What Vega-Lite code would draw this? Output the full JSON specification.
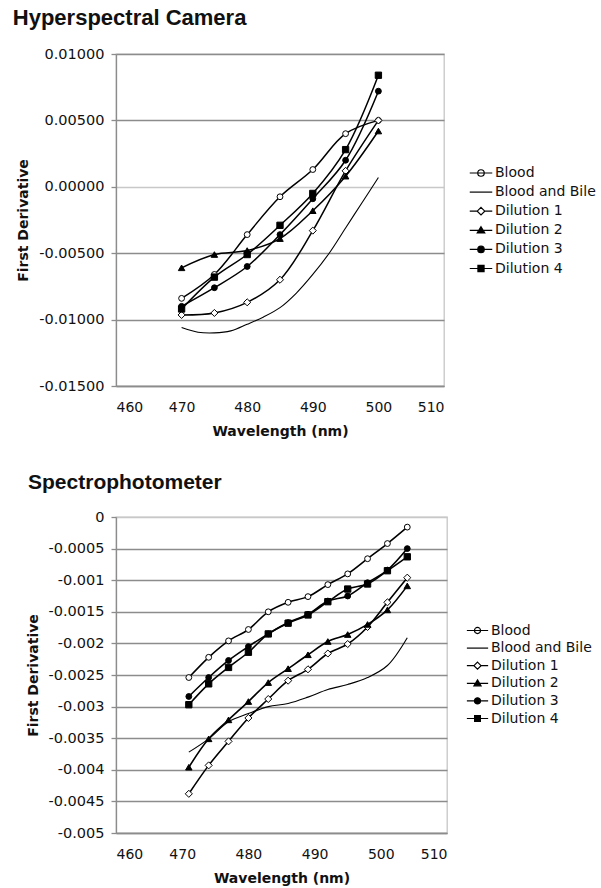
{
  "$schema": "https://vega.github.io/schema/vega-lite/v6.json",
  "padding": {"left": 12, "top": 6, "right": 5, "bottom": 5},
  "background": "white",
  "spacing": 32,
  "config": {
    "font": "DejaVu Sans",
    "view": {"stroke": "#c6c6c6", "strokeWidth": 1.3},
    "axis": {
      "labelFont": "DejaVu Sans", "labelFontSize": 14, "labelColor": "#111",
      "titleFont": "DejaVu Sans", "titleFontSize": 14, "titleFontWeight": "bold", "titleColor": "#111",
      "domainColor": "#8c8c8c", "domainWidth": 1.3, "tickColor": "#8c8c8c", "tickWidth": 1.3
    },
    "axisX": {"grid": false, "ticks": false, "tickSize": 0, "labelPadding": 14, "titlePadding": 10},
    "axisY": {"tickSize": 5, "labelPadding": 7, "titlePadding": 8, "labelFontSize": 14.5,
      "gridColor": {"condition": {"test": "datum.value === 0", "value": "#c8c8c8"}, "value": "#8c8c8c"},
      "gridWidth": 1.3},
    "title": {"font": "Liberation Sans", "fontWeight": "bold", "anchor": "start", "color": "#111", "frame": "bounds"}
  },
  "resolve": {
    "scale": {"x": "independent", "y": "independent", "shape": "independent", "fill": "independent"},
    "legend": {"shape": "independent", "fill": "independent"}
  },
  "datasets": {
    "hyper": [
      {"series": "Blood", "wavelength": 470, "value": -0.0084},
      {"series": "Blood", "wavelength": 475, "value": -0.0066},
      {"series": "Blood", "wavelength": 480, "value": -0.0036},
      {"series": "Blood", "wavelength": 485, "value": -0.00075},
      {"series": "Blood", "wavelength": 490, "value": 0.0013},
      {"series": "Blood", "wavelength": 495, "value": 0.0040},
      {"series": "Blood", "wavelength": 500, "value": 0.0050},
      {"series": "Blood and Bile", "wavelength": 470, "value": -0.0106},
      {"series": "Blood and Bile", "wavelength": 472.5, "value": -0.01095},
      {"series": "Blood and Bile", "wavelength": 475, "value": -0.0110},
      {"series": "Blood and Bile", "wavelength": 477.5, "value": -0.01085},
      {"series": "Blood and Bile", "wavelength": 480, "value": -0.01035},
      {"series": "Blood and Bile", "wavelength": 482.5, "value": -0.0098},
      {"series": "Blood and Bile", "wavelength": 485, "value": -0.0091},
      {"series": "Blood and Bile", "wavelength": 487.5, "value": -0.0080},
      {"series": "Blood and Bile", "wavelength": 490, "value": -0.0066},
      {"series": "Blood and Bile", "wavelength": 492.5, "value": -0.0050},
      {"series": "Blood and Bile", "wavelength": 495, "value": -0.0031},
      {"series": "Blood and Bile", "wavelength": 497.5, "value": -0.0012},
      {"series": "Blood and Bile", "wavelength": 500, "value": 0.0007},
      {"series": "Dilution 1", "wavelength": 470, "value": -0.00965},
      {"series": "Dilution 1", "wavelength": 475, "value": -0.0095},
      {"series": "Dilution 1", "wavelength": 480, "value": -0.0087},
      {"series": "Dilution 1", "wavelength": 485, "value": -0.0070},
      {"series": "Dilution 1", "wavelength": 490, "value": -0.0033},
      {"series": "Dilution 1", "wavelength": 495, "value": 0.0012},
      {"series": "Dilution 1", "wavelength": 500, "value": 0.0050},
      {"series": "Dilution 2", "wavelength": 470, "value": -0.0061},
      {"series": "Dilution 2", "wavelength": 475, "value": -0.0051},
      {"series": "Dilution 2", "wavelength": 480, "value": -0.0048},
      {"series": "Dilution 2", "wavelength": 485, "value": -0.0039},
      {"series": "Dilution 2", "wavelength": 490, "value": -0.0018},
      {"series": "Dilution 2", "wavelength": 495, "value": 0.0008},
      {"series": "Dilution 2", "wavelength": 500, "value": 0.0042},
      {"series": "Dilution 3", "wavelength": 470, "value": -0.0090},
      {"series": "Dilution 3", "wavelength": 475, "value": -0.0076},
      {"series": "Dilution 3", "wavelength": 480, "value": -0.0060},
      {"series": "Dilution 3", "wavelength": 485, "value": -0.0036},
      {"series": "Dilution 3", "wavelength": 490, "value": -0.0009},
      {"series": "Dilution 3", "wavelength": 495, "value": 0.0020},
      {"series": "Dilution 3", "wavelength": 500, "value": 0.0072},
      {"series": "Dilution 4", "wavelength": 470, "value": -0.0092},
      {"series": "Dilution 4", "wavelength": 475, "value": -0.0068},
      {"series": "Dilution 4", "wavelength": 480, "value": -0.0051},
      {"series": "Dilution 4", "wavelength": 485, "value": -0.0029},
      {"series": "Dilution 4", "wavelength": 490, "value": -0.0005},
      {"series": "Dilution 4", "wavelength": 495, "value": 0.0028},
      {"series": "Dilution 4", "wavelength": 500, "value": 0.0084}
    ],
    "spectro": [
      {"series": "Blood", "wavelength": 471, "value": -0.00254},
      {"series": "Blood", "wavelength": 474, "value": -0.00222},
      {"series": "Blood", "wavelength": 477, "value": -0.00196},
      {"series": "Blood", "wavelength": 480, "value": -0.00178},
      {"series": "Blood", "wavelength": 483, "value": -0.0015},
      {"series": "Blood", "wavelength": 486, "value": -0.00135},
      {"series": "Blood", "wavelength": 489, "value": -0.00126},
      {"series": "Blood", "wavelength": 492, "value": -0.00107},
      {"series": "Blood", "wavelength": 495, "value": -0.0009},
      {"series": "Blood", "wavelength": 498, "value": -0.00066},
      {"series": "Blood", "wavelength": 501, "value": -0.00042},
      {"series": "Blood", "wavelength": 504, "value": -0.00016},
      {"series": "Blood and Bile", "wavelength": 471, "value": -0.00372},
      {"series": "Blood and Bile", "wavelength": 474, "value": -0.00351},
      {"series": "Blood and Bile", "wavelength": 477, "value": -0.00324},
      {"series": "Blood and Bile", "wavelength": 480, "value": -0.00311},
      {"series": "Blood and Bile", "wavelength": 483, "value": -0.00300},
      {"series": "Blood and Bile", "wavelength": 486, "value": -0.00295},
      {"series": "Blood and Bile", "wavelength": 489, "value": -0.00285},
      {"series": "Blood and Bile", "wavelength": 492, "value": -0.00273},
      {"series": "Blood and Bile", "wavelength": 495, "value": -0.00265},
      {"series": "Blood and Bile", "wavelength": 498, "value": -0.00254},
      {"series": "Blood and Bile", "wavelength": 501, "value": -0.00235},
      {"series": "Blood and Bile", "wavelength": 504, "value": -0.00191},
      {"series": "Dilution 1", "wavelength": 471, "value": -0.00438},
      {"series": "Dilution 1", "wavelength": 474, "value": -0.00393},
      {"series": "Dilution 1", "wavelength": 477, "value": -0.00355},
      {"series": "Dilution 1", "wavelength": 480, "value": -0.00318},
      {"series": "Dilution 1", "wavelength": 483, "value": -0.00288},
      {"series": "Dilution 1", "wavelength": 486, "value": -0.00259},
      {"series": "Dilution 1", "wavelength": 489, "value": -0.00241},
      {"series": "Dilution 1", "wavelength": 492, "value": -0.00216},
      {"series": "Dilution 1", "wavelength": 495, "value": -0.00201},
      {"series": "Dilution 1", "wavelength": 498, "value": -0.00174},
      {"series": "Dilution 1", "wavelength": 501, "value": -0.00135},
      {"series": "Dilution 1", "wavelength": 504, "value": -0.00096},
      {"series": "Dilution 2", "wavelength": 471, "value": -0.00396},
      {"series": "Dilution 2", "wavelength": 474, "value": -0.00351},
      {"series": "Dilution 2", "wavelength": 477, "value": -0.00321},
      {"series": "Dilution 2", "wavelength": 480, "value": -0.00292},
      {"series": "Dilution 2", "wavelength": 483, "value": -0.00262},
      {"series": "Dilution 2", "wavelength": 486, "value": -0.0024},
      {"series": "Dilution 2", "wavelength": 489, "value": -0.00218},
      {"series": "Dilution 2", "wavelength": 492, "value": -0.00197},
      {"series": "Dilution 2", "wavelength": 495, "value": -0.00186},
      {"series": "Dilution 2", "wavelength": 498, "value": -0.0017},
      {"series": "Dilution 2", "wavelength": 501, "value": -0.00147},
      {"series": "Dilution 2", "wavelength": 504, "value": -0.00109},
      {"series": "Dilution 3", "wavelength": 471, "value": -0.00284},
      {"series": "Dilution 3", "wavelength": 474, "value": -0.00254},
      {"series": "Dilution 3", "wavelength": 477, "value": -0.00227},
      {"series": "Dilution 3", "wavelength": 480, "value": -0.00205},
      {"series": "Dilution 3", "wavelength": 483, "value": -0.00185},
      {"series": "Dilution 3", "wavelength": 486, "value": -0.00167},
      {"series": "Dilution 3", "wavelength": 489, "value": -0.00154},
      {"series": "Dilution 3", "wavelength": 492, "value": -0.00133},
      {"series": "Dilution 3", "wavelength": 495, "value": -0.00125},
      {"series": "Dilution 3", "wavelength": 498, "value": -0.00104},
      {"series": "Dilution 3", "wavelength": 501, "value": -0.00084},
      {"series": "Dilution 3", "wavelength": 504, "value": -0.0005},
      {"series": "Dilution 4", "wavelength": 471, "value": -0.00297},
      {"series": "Dilution 4", "wavelength": 474, "value": -0.00264},
      {"series": "Dilution 4", "wavelength": 477, "value": -0.00238},
      {"series": "Dilution 4", "wavelength": 480, "value": -0.00214},
      {"series": "Dilution 4", "wavelength": 483, "value": -0.00185},
      {"series": "Dilution 4", "wavelength": 486, "value": -0.00168},
      {"series": "Dilution 4", "wavelength": 489, "value": -0.00155},
      {"series": "Dilution 4", "wavelength": 492, "value": -0.00134},
      {"series": "Dilution 4", "wavelength": 495, "value": -0.00114},
      {"series": "Dilution 4", "wavelength": 498, "value": -0.00106},
      {"series": "Dilution 4", "wavelength": 501, "value": -0.00085},
      {"series": "Dilution 4", "wavelength": 504, "value": -0.00063}
    ]
  },
  "vconcat": [
    {
      "width": 328,
      "height": 332,
      "title": {"text": "Hyperspectral Camera", "fontSize": 22, "offset": 16, "dx": -4},
      "data": {"name": "hyper"},
      "encoding": {
        "x": {"field": "wavelength", "type": "quantitative", "title": "Wavelength (nm)",
          "scale": {"domain": [460, 510], "nice": false},
          "axis": {"values": [460, 470, 480, 490, 500, 510]}},
        "y": {"field": "value", "type": "quantitative", "title": "First Derivative",
          "scale": {"domain": [-0.015, 0.01], "nice": false},
          "axis": {"values": [-0.015, -0.01, -0.005, 0, 0.005, 0.01],
            "labelExpr": "replace(format(datum.value, '.5f'), '\u2212', '-')"}}
      },
      "layer": [
        {
          "mark": {"type": "line", "interpolate": "catmull-rom", "color": "black"},
          "encoding": {
            "detail": {"field": "series"},
            "strokeWidth": {"condition": {"test": "datum.series === 'Blood and Bile'", "value": 1.1}, "value": 1.5}
          }
        },
        {
          "transform": [{"filter": "datum.series !== 'Blood and Bile'"}],
          "mark": {"type": "point", "opacity": 1, "stroke": "black", "strokeWidth": 1},
          "encoding": {
            "shape": {"condition": [
              {"test": "datum.series === 'Dilution 1'", "value": "diamond"},
              {"test": "datum.series === 'Dilution 2'", "value": "triangle-up"},
              {"test": "datum.series === 'Dilution 4'", "value": "square"}
            ], "value": "circle"},
            "fill": {"condition": {"test": "datum.series === 'Blood' || datum.series === 'Dilution 1'", "value": "white"}, "value": "black"},
            "size": {"condition": [
              {"test": "datum.series === 'Dilution 1'", "value": 50},
              {"test": "datum.series === 'Dilution 2'", "value": 42},
              {"test": "datum.series === 'Dilution 4'", "value": 40}
            ], "value": 34}
          }
        },
        {
          "transform": [{"filter": "false"}],
          "mark": {"type": "point", "opacity": 1, "stroke": "black", "strokeWidth": 1.2},
          "encoding": {
            "x": null, "y": null,
            "stroke": {"value": "black"},
            "shape": {"field": "series", "type": "nominal",
              "scale": {"domain": ["Blood", "Blood and Bile", "Dilution 1", "Dilution 2", "Dilution 3", "Dilution 4"],
                "range": [
                  "M-1.25,0H1.25M0.36,0A0.36,0.36 0 1,1 -0.36,0A0.36,0.36 0 1,1 0.36,0Z",
                  "M-1.25,0H1.25",
                  "M-1.25,0H-0.42M0.42,0H1.25M0,-0.42L0.42,0L0,0.42L-0.42,0Z",
                  "M-1.25,0H1.25M0,-0.4L0.42,0.3L-0.42,0.3Z",
                  "M-1.25,0H1.25M0.36,0A0.36,0.36 0 1,1 -0.36,0A0.36,0.36 0 1,1 0.36,0Z",
                  "M-1.25,0H1.25M-0.34,-0.34H0.34V0.34H-0.34Z"
                ]},
              "legend": {"title": null, "orient": "none", "legendX": 355, "legendY": 109, "symbolSize": 324,
                "symbolStrokeWidth": 1.2, "symbolOpacity": 1,
                "labelFontSize": 14, "labelFont": "DejaVu Sans", "labelColor": "#111",
                "labelOffset": 4, "rowPadding": 2.1, "padding": 0}},
            "fill": {"field": "series", "type": "nominal",
              "scale": {"domain": ["Blood", "Blood and Bile", "Dilution 1", "Dilution 2", "Dilution 3", "Dilution 4"],
                "range": ["white", "transparent", "white", "black", "black", "black"]},
              "legend": {"title": null, "orient": "none", "legendX": 355, "legendY": 109, "symbolSize": 324,
                "symbolStrokeWidth": 1.2, "symbolOpacity": 1,
                "labelFontSize": 14, "labelFont": "DejaVu Sans", "labelColor": "#111",
                "labelOffset": 4, "rowPadding": 2.1, "padding": 0}}
          }
        }
      ]
    },
    {
      "width": 331,
      "height": 316,
      "title": {"text": "Spectrophotometer", "fontSize": 21, "offset": 16, "dx": 2},
      "data": {"name": "spectro"},
      "encoding": {
        "x": {"field": "wavelength", "type": "quantitative", "title": "Wavelength (nm)",
          "scale": {"domain": [460, 510], "nice": false},
          "axis": {"values": [460, 470, 480, 490, 500, 510]}},
        "y": {"field": "value", "type": "quantitative", "title": "First Derivative",
          "scale": {"domain": [-0.005, 0], "nice": false},
          "axis": {"values": [0, -0.0005, -0.001, -0.0015, -0.002, -0.0025, -0.003, -0.0035, -0.004, -0.0045, -0.005],
            "labelExpr": "replace(format(datum.value, '~g'), '\u2212', '-')"}}
      },
      "layer": [
        {
          "mark": {"type": "line", "interpolate": "catmull-rom", "color": "black"},
          "encoding": {
            "detail": {"field": "series"},
            "strokeWidth": {"condition": {"test": "datum.series === 'Blood and Bile'", "value": 1.1}, "value": 1.6}
          }
        },
        {
          "transform": [{"filter": "datum.series !== 'Blood and Bile'"}],
          "mark": {"type": "point", "opacity": 1, "stroke": "black", "strokeWidth": 1},
          "encoding": {
            "shape": {"condition": [
              {"test": "datum.series === 'Dilution 1'", "value": "diamond"},
              {"test": "datum.series === 'Dilution 2'", "value": "triangle-up"},
              {"test": "datum.series === 'Dilution 4'", "value": "square"}
            ], "value": "circle"},
            "fill": {"condition": {"test": "datum.series === 'Blood' || datum.series === 'Dilution 1'", "value": "white"}, "value": "black"},
            "size": {"condition": [
              {"test": "datum.series === 'Dilution 1'", "value": 50},
              {"test": "datum.series === 'Dilution 2'", "value": 42},
              {"test": "datum.series === 'Dilution 4'", "value": 40}
            ], "value": 34}
          }
        },
        {
          "transform": [{"filter": "false"}],
          "mark": {"type": "point", "opacity": 1, "stroke": "black", "strokeWidth": 1.2},
          "encoding": {
            "x": null, "y": null,
            "stroke": {"value": "black"},
            "shape": {"field": "series", "type": "nominal",
              "scale": {"domain": ["Blood", "Blood and Bile", "Dilution 1", "Dilution 2", "Dilution 3", "Dilution 4"],
                "range": [
                  "M-1.25,0H1.25M0.36,0A0.36,0.36 0 1,1 -0.36,0A0.36,0.36 0 1,1 0.36,0Z",
                  "M-1.25,0H1.25",
                  "M-1.25,0H-0.42M0.42,0H1.25M0,-0.42L0.42,0L0,0.42L-0.42,0Z",
                  "M-1.25,0H1.25M0,-0.4L0.42,0.3L-0.42,0.3Z",
                  "M-1.25,0H1.25M0.36,0A0.36,0.36 0 1,1 -0.36,0A0.36,0.36 0 1,1 0.36,0Z",
                  "M-1.25,0H1.25M-0.34,-0.34H0.34V0.34H-0.34Z"
                ]},
              "legend": {"title": null, "orient": "none", "legendX": 352, "legendY": 104, "symbolSize": 289,
                "symbolStrokeWidth": 1.2, "symbolOpacity": 1,
                "labelFontSize": 14, "labelFont": "DejaVu Sans", "labelColor": "#111",
                "labelOffset": 4, "rowPadding": 0.6, "padding": 0}},
            "fill": {"field": "series", "type": "nominal",
              "scale": {"domain": ["Blood", "Blood and Bile", "Dilution 1", "Dilution 2", "Dilution 3", "Dilution 4"],
                "range": ["white", "transparent", "white", "black", "black", "black"]},
              "legend": {"title": null, "orient": "none", "legendX": 352, "legendY": 104, "symbolSize": 289,
                "symbolStrokeWidth": 1.2, "symbolOpacity": 1,
                "labelFontSize": 14, "labelFont": "DejaVu Sans", "labelColor": "#111",
                "labelOffset": 4, "rowPadding": 0.6, "padding": 0}}
          }
        }
      ]
    }
  ]
}
